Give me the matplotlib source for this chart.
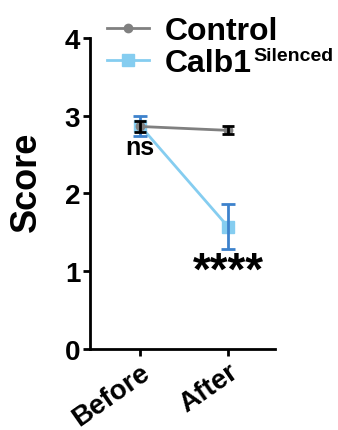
import matplotlib
matplotlib.use("Agg")
import matplotlib.pyplot as plt
import numpy as np

plt.rcParams['font.family'] = ['Liberation Sans', 'DejaVu Sans']
plt.rcParams['font.weight'] = 'bold'

groups = ["Before", "After"]
control_mean = [2.86, 2.81]
control_err = [0.07, 0.05]
calb1_mean = [2.87, 1.57]
calb1_err = [0.13, 0.29]
sig_labels = ["ns", "****"]
sig_y = [2.59, 0.99]
sig_size = [18, 33]

x = np.arange(len(groups))

fig = plt.figure(figsize=(3.38, 4.31), dpi=100)
ax = fig.add_axes([0.266, 0.188, 0.547, 0.722])

ax.plot(x, calb1_mean, color="#85cdf0", lw=2, marker="s", ms=8, zorder=2,
        label="Calb1")
ax.errorbar(x, calb1_mean, yerr=calb1_err, fmt="none", ecolor="#3d82cc",
            elinewidth=2, capsize=5, capthick=2, zorder=3)
ax.plot(x, control_mean, color="#808080", lw=2, marker="o", ms=6, zorder=4,
        label="Control")
ax.errorbar(x, control_mean, yerr=control_err, fmt="none", ecolor="black",
            elinewidth=2, capsize=4, capthick=2, zorder=5)

for xi, s, yy, fs in zip(x, sig_labels, sig_y, sig_size):
    ax.text(xi, yy, s, ha="center", va="center", fontsize=fs, fontweight="bold")

ax.set_xlim(-0.57, 1.53)
ax.set_ylim(0, 4)
ax.set_yticks([0, 1, 2, 3, 4])
ax.set_xticks(x)
ax.set_xticklabels(groups, rotation=35, ha="right", rotation_mode="anchor")
ax.set_ylabel("Score", fontsize=26, fontweight="bold")
ax.yaxis.set_label_coords(-0.25, 0.54)
ax.tick_params(labelsize=20, width=2, length=5, pad=2)
ax.spines["top"].set_visible(False)
ax.spines["right"].set_visible(False)
ax.spines["left"].set_linewidth(2)
ax.spines["bottom"].set_linewidth(2)

h, l = ax.get_legend_handles_labels()
leg = fig.legend(h[::-1], l[::-1], loc="upper left", bbox_to_anchor=(0.28, 0.99),
                 frameon=False, fontsize=23, handlelength=1.3, handletextpad=0.5,
                 labelspacing=0.05, borderaxespad=0)

# superscript after "Calb1" in the legend
fig.canvas.draw()
bb = leg.get_texts()[1].get_window_extent().transformed(fig.transFigure.inverted())
fig.text(bb.x1 + 0.005, bb.y1 + 0.001, "Silenced", fontsize=14, fontweight="bold",
         ha="left", va="top")

fig.savefig("out.png", dpi=100)
